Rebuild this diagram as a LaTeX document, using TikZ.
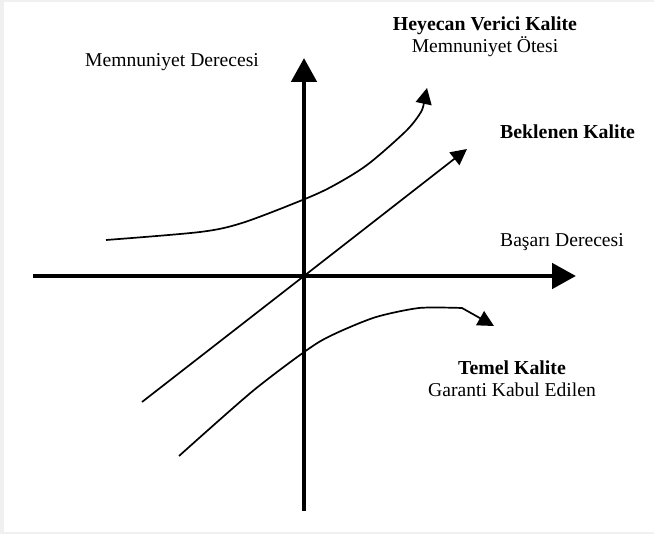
\documentclass[tikz,border=0pt]{standalone}
\usepackage{fontspec}
\setmainfont{Liberation Serif}
\usetikzlibrary{arrows.meta}
\begin{document}
\begin{tikzpicture}[x=1pt,y=-1pt,
  axis/.style={line width=4.8pt,-{Triangle[length=24pt,width=25pt]}},
  curve/.style={line width=1.7pt,-{Triangle[length=16pt,width=16pt]}},
  lbl/.style={inner sep=0pt,font=\fontsize{19.6}{23}\selectfont},
  lblb/.style={lbl,font=\fontsize{19.8}{23}\selectfont\bfseries}]
\useasboundingbox (0,0) rectangle (654,534);
\fill[black!6] (0,0) rectangle (654,534);
\fill[white] (4,2) rectangle (654,532);
% axes
\coordinate (xs) at (33,276);
\coordinate (xe) at (576,276);
\coordinate (ys) at (304,511);
\coordinate (ye) at (304,58);
\coordinate (o) at (304,276);
\draw[axis] (xs) -- (xe);
\draw[axis] (ys) -- (ye);
% Beklenen kalite (straight)
\coordinate (bs) at (142,402);
\coordinate (be) at (467,149);
\draw[curve] (bs) -- (o) -- (be);
% Heyecan verici kalite (upper curve)
\coordinate (hs) at (106,240);
\coordinate (he) at (427,88);
\draw[curve] (hs) -- plot[smooth,tension=0.5] coordinates {(106,240) (200,232) (242,223) (300,201) (331,187) (367,165) (406,131) (421,112) (424,102)} -- (he);
% Temel kalite (lower curve)
\coordinate (ts) at (179,456);
\coordinate (te) at (494,326);
\draw[curve] (ts) -- plot[smooth,tension=0.4] coordinates {(179,456) (254,390) (319,342) (373,318) (419,308) (462,308)} -- (te);
% labels
\node[lbl,anchor=base west] (my) at (85,67) {Memnuniyet Derecesi};
\node[lblb,anchor=base] (hv) at (485,30.7) {Heyecan Verici Kalite};
\node[lbl,anchor=base] (mo) at (485,52.7) {Memnuniyet Ötesi};
\node[lblb,anchor=base west] (bk) at (500,139) {Beklenen Kalite};
\node[lbl,anchor=base west] (bd) at (500,247) {Başarı Derecesi};
\node[lblb,anchor=base] (tk) at (512,375) {Temel Kalite};
\node[lbl,anchor=base] (gk) at (512,396.7) {Garanti Kabul Edilen};
\end{tikzpicture}
\end{document}
